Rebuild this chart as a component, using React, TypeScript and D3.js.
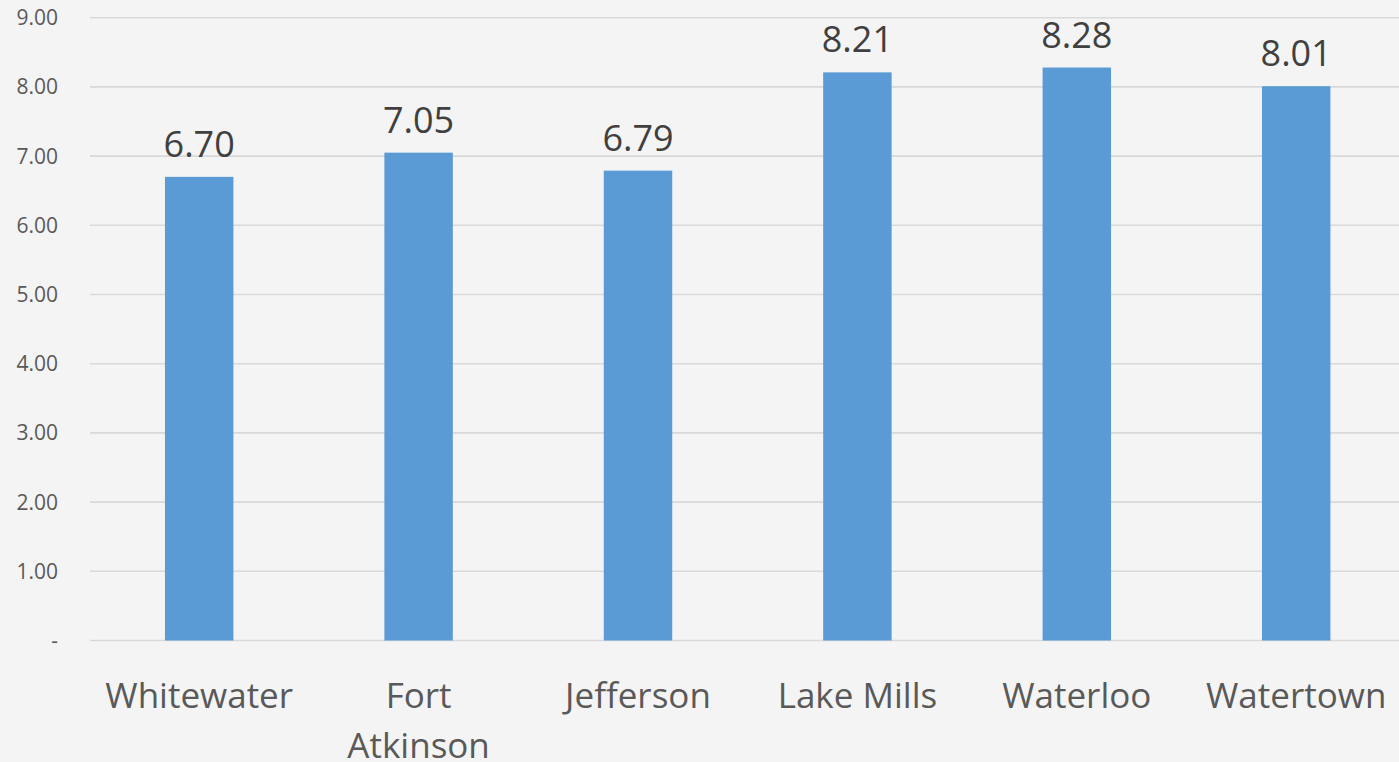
import React from "react";
import * as d3 from "d3";

const categories: string[] = ["Whitewater", "Fort Atkinson", "Jefferson", "Lake Mills", "Waterloo", "Watertown"];
const categoryLines: string[][] = [["Whitewater"], ["Fort", "Atkinson"], ["Jefferson"], ["Lake Mills"], ["Waterloo"], ["Watertown"]];
const values: number[] = [6.7, 7.05, 6.79, 8.21, 8.28, 8.01];
const yTicks: number[] = [0, 1, 2, 3, 4, 5, 6, 7, 8, 9];

const W = 1399;
const H = 762;
const FONT = "'Open Sans', 'Noto Sans', sans-serif";

export default function App() {
  const x = d3.scaleBand<string>().domain(categories).range([89.5, 1405.9]).paddingInner(0.688).paddingOuter(0.344);
  const y = d3.scaleLinear().domain([0, 9]).range([640.5, 17.7]);
  const fmt = (v: number) => (v === 0 ? "-" : d3.format(".2f")(v));

  return (
    <svg width={W} height={H} style={{ position: "absolute", left: 0, top: 0, background: "#f4f4f4" }} fontFamily={FONT}>
      <rect x={0} y={0} width={W} height={H} fill="#f4f4f4" />
      {yTicks.map((t) => (
        <g key={t}>
          <line x1={90} x2={W} y1={y(t)} y2={y(t)} stroke="#d9d9d9" strokeWidth={1.6} />
          <text x={58} y={y(t)} dy="0.36em" textAnchor="end" fontSize={21} fill="#595959">
            {fmt(t)}
          </text>
        </g>
      ))}
      {categories.map((c, i) => {
        const bx = x(c) ?? 0;
        const bw = x.bandwidth();
        const cx = bx + bw / 2;
        return (
          <g key={c}>
            <rect x={bx} y={y(values[i])} width={bw} height={y(0) - y(values[i])} fill="#5b9bd5" />
            <text x={cx} y={y(values[i]) - 20} textAnchor="middle" fontSize={36} fill="#404040">
              {d3.format(".2f")(values[i])}
            </text>
            {categoryLines[i].map((ln, j) => (
              <text key={j} x={cx} y={y(0) + 67 + j * 50} textAnchor="middle" fontSize={35} fill="#595959">
                {ln}
              </text>
            ))}
          </g>
        );
      })}
    </svg>
  );
}
